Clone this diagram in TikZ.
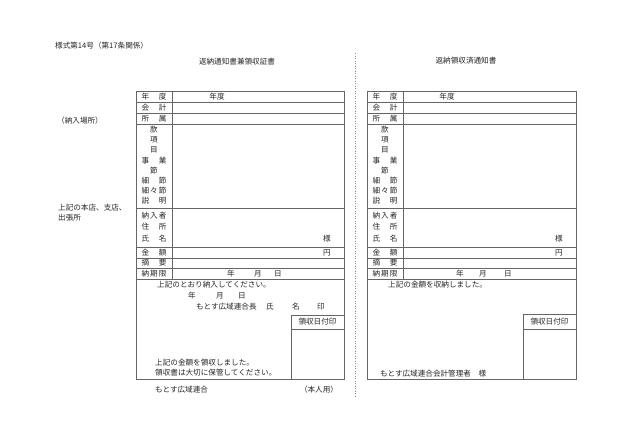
\documentclass[tikz,border=0pt]{standalone}
\usepackage{fontspec}
\setmainfont{Noto Sans CJK JP}
\newcommand\spr[1]{\makebox[25pt][s]{#1}}
\begin{document}
\begin{tikzpicture}[x=1pt,y=-1pt,
  txt/.style={inner sep=0pt,font=\fontsize{7.6}{8}\selectfont,text=black!85},
  wtxt/.style={txt,anchor=west},
  rule/.style={draw=black!60,line width=0.6pt},
  sep/.style={draw=black!45,line width=0.5pt,dotted}]
\useasboundingbox[fill=white] (0,0) rectangle (630,440);
% header
\node[wtxt] (hdr) at (55,46) {様式第14号（第17条関係）};
\node[txt] (t1) at (237,62) {返納通知書兼領収証書};
\node[txt] (t2) at (466,61) {返納領収済通知書};
% separator
\coordinate (s1) at (355,53);
\coordinate (s2) at (355,398);
\draw[sep] (s1) -- (s2);
% left side notes
\node[wtxt] (place) at (57,121) {（納入場所）};
\node[wtxt] (br1) at (58,208) {上記の本店、支店、};
\node[wtxt] (br2) at (58,218) {出張所};

% ===== left form =====
\draw[rule] (136,91) rectangle (344,379);
\draw[rule] (172,91) -- (172,279);
\foreach \yy in {102,113,124,208,247,258,268,279}
  \draw[rule] (136,\yy) -- (344,\yy);
\node[txt] (la1) at (154,97) {\spr{年\hfill 度}};
\node[txt] (la2) at (154,107.5) {\spr{会\hfill 計}};
\node[txt] (la3) at (154,118.5) {\spr{所\hfill 属}};
\node[txt] (la4) at (154,130) {款};
\node[txt] (la5) at (154,140) {項};
\node[txt] (la6) at (154,150) {目};
\node[txt] (la7) at (154,160.5) {\spr{事\hfill 業}};
\node[txt] (la8) at (154,171) {節};
\node[txt] (la9) at (154,181) {\spr{細\hfill 節}};
\node[txt] (la10) at (154,191) {\spr{細\hfill 々\hfill 節}};
\node[txt] (la11) at (154,201) {\spr{説\hfill 明}};
\node[txt] (la12) at (154,216) {\spr{納\hfill 入\hfill 者}};
\node[txt] (la13) at (154,227) {\spr{住\hfill 所}};
\node[txt] (la14) at (154,238.5) {\spr{氏\hfill 名}};
\node[txt] (la15) at (154,252.5) {\spr{金\hfill 額}};
\node[txt] (la16) at (154,263) {\spr{摘\hfill 要}};
\node[txt] (la17) at (154,273.5) {\spr{納\hfill 期\hfill 限}};
\node[txt] (lv1) at (217,97) {年度};
\node[txt] (lv2) at (327,238.5) {様};
\node[txt] (lv3) at (327,252.5) {円};
\node[txt] (lv4) at (231,273.5) {年};
\node[txt] (lv5) at (258,273.5) {月};
\node[txt] (lv6) at (278,273.5) {日};
\node[wtxt] (lb1) at (157,285) {上記のとおり納入してください。};
\node[txt] (lb2) at (192,296) {年};
\node[txt] (lb3) at (220,296) {月};
\node[txt] (lb4) at (242,296) {日};
\node[wtxt] (lb5) at (196,307) {もとす広域連合長};
\node[txt] (lb6) at (270,307) {氏};
\node[txt] (lb7) at (296,307) {名};
\node[txt] (lb8) at (321,307) {印};
\draw[rule] (291,379) -- (291,315) -- (344,315);
\draw[rule] (291,329) -- (344,329);
\node[txt] (ls) at (317.5,322) {領収日付印};
\node[wtxt] (lb9) at (155,363) {上記の金額を領収しました。};
\node[wtxt] (lb10) at (155,373) {領収書は大切に保管してください。};
\node[wtxt] (lf1) at (155,390) {もとす広域連合};
\node[txt] (lf2) at (319,390) {（本人用）};

% ===== right form =====
\draw[rule] (367,91) rectangle (576,379);
\draw[rule] (403,91) -- (403,279);
\foreach \yy in {102,113,124,208,247,258,268,279}
  \draw[rule] (367,\yy) -- (576,\yy);
\node[txt] (ra1) at (385,97) {\spr{年\hfill 度}};
\node[txt] (ra2) at (385,107.5) {\spr{会\hfill 計}};
\node[txt] (ra3) at (385,118.5) {\spr{所\hfill 属}};
\node[txt] (ra4) at (385,130) {款};
\node[txt] (ra5) at (385,140) {項};
\node[txt] (ra6) at (385,150) {目};
\node[txt] (ra7) at (385,160.5) {\spr{事\hfill 業}};
\node[txt] (ra8) at (385,171) {節};
\node[txt] (ra9) at (385,181) {\spr{細\hfill 節}};
\node[txt] (ra10) at (385,191) {\spr{細\hfill 々\hfill 節}};
\node[txt] (ra11) at (385,201) {\spr{説\hfill 明}};
\node[txt] (ra12) at (385,216) {\spr{納\hfill 入\hfill 者}};
\node[txt] (ra13) at (385,227) {\spr{住\hfill 所}};
\node[txt] (ra14) at (385,238.5) {\spr{氏\hfill 名}};
\node[txt] (ra15) at (385,252.5) {\spr{金\hfill 額}};
\node[txt] (ra16) at (385,263) {\spr{摘\hfill 要}};
\node[txt] (ra17) at (385,273.5) {\spr{納\hfill 期\hfill 限}};
\node[txt] (rv1) at (447,97) {年度};
\node[txt] (rv2) at (559,238.5) {様};
\node[txt] (rv3) at (559,252.5) {円};
\node[txt] (rv4) at (460,273.5) {年};
\node[txt] (rv5) at (483,273.5) {月};
\node[txt] (rv6) at (508,273.5) {日};
\node[wtxt] (rb1) at (388,285) {上記の金額を収納しました。};
\draw[rule] (523,379) -- (523,314) -- (576,314);
\draw[rule] (523,329) -- (576,329);
\node[txt] (rs) at (549.5,321.5) {領収日付印};
\node[wtxt] (rb2) at (380,374) {もとす広域連合会計管理者　様};
\end{tikzpicture}
\end{document}
